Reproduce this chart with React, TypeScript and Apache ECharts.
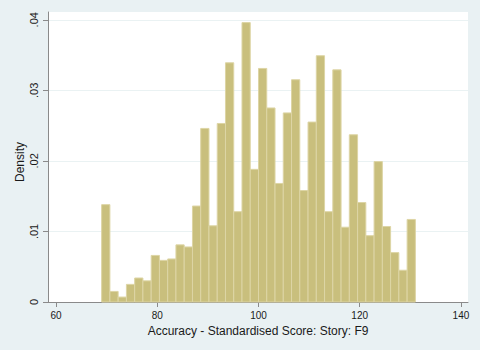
import React, { useEffect, useRef } from "react";
import * as echarts from "echarts";

// Histogram bins: start of first bin, bin width
const binStart = 69;
const binWidth = 62 / 38;
// Density of each bin
const densities = [
  0.0138, 0.0015, 0.0007, 0.0025, 0.0034, 0.003, 0.0066, 0.0059, 0.0061, 0.0081,
  0.0078, 0.0136, 0.0246, 0.0108, 0.0253, 0.0339, 0.0128, 0.0396, 0.0188, 0.0331,
  0.0275, 0.0168, 0.0268, 0.0315, 0.0158, 0.0255, 0.0349, 0.0128, 0.0329, 0.0106,
  0.0237, 0.0141, 0.0094, 0.0199, 0.0107, 0.007, 0.0045, 0.0117,
];
const xTicks = [60, 80, 100, 120, 140];
const yTicks = [0, 0.01, 0.02, 0.03, 0.04];
const yTickLabels = ["0", ".01", ".02", ".03", ".04"];
const xTitle = "Accuracy - Standardised Score: Story: F9";
const yTitle = "Density";

export default function App() {
  const ref = useRef<HTMLDivElement>(null);
  useEffect(() => {
    document.body.style.margin = "0";
    const chart = echarts.init(ref.current!, null, { renderer: "svg" });
    const data = densities.map((d, i) => [binStart + i * binWidth, binStart + (i + 1) * binWidth, d]);
    const font = "Liberation Sans";
    chart.setOption({
      animation: false,
      backgroundColor: "#e9f1f3",
      grid: {
        left: 48,
        top: 12,
        right: 12,
        bottom: 48,
        show: true,
        backgroundColor: "#ffffff",
        borderWidth: 0,
      },
      graphic: [
        {
          type: "text",
          x: 20,
          y: 162,
          rotation: Math.PI / 2,
          style: {
            text: yTitle,
            fontFamily: font,
            fontSize: 12,
            fill: "#1a1a1a",
            align: "center",
            verticalAlign: "middle",
          },
        },
      ],
      xAxis: {
        type: "value",
        min: 58.4,
        max: 141.4,
        name: xTitle,
        nameLocation: "middle",
        nameGap: 23,
        nameTextStyle: { fontFamily: font, fontSize: 12, color: "#1a1a1a" },
        axisLine: { show: true, onZero: false, lineStyle: { color: "#8a8a8a", width: 1 } },
        axisTick: { show: true, customValues: xTicks, length: 5, lineStyle: { color: "#8a8a8a" } },
        axisLabel: { customValues: xTicks, margin: 8, fontFamily: font, fontSize: 10, color: "#1a1a1a" },
        splitLine: { show: false },
      },
      yAxis: {
        type: "value",
        min: 0,
        max: 0.0411,
        axisLine: { show: true, lineStyle: { color: "#8a8a8a", width: 1 } },
        axisTick: { show: true, customValues: yTicks, length: 5, lineStyle: { color: "#8a8a8a" } },
        axisLabel: {
          customValues: yTicks,
          rotate: 90,
          margin: 9,
          fontFamily: font,
          fontSize: 11,
          color: "#1a1a1a",
          formatter: (v: number) => {
            const idx = yTicks.findIndex((t) => Math.abs(t - v) < 1e-9);
            return idx >= 0 ? yTickLabels[idx] : "";
          },
        },
        splitLine: { show: true, lineStyle: { color: "#eaf2f3", width: 1 } },
      },
      series: [
        {
          type: "custom",
          data,
          renderItem: (params: any, api: any) => {
            const p0 = api.coord([api.value(0), api.value(2)]);
            const p1 = api.coord([api.value(1), 0]);
            return {
              type: "rect",
              shape: { x: p0[0], y: p0[1], width: p1[0] - p0[0], height: p1[1] - p0[1] },
              style: { fill: "#c9bf7d", stroke: "#ddd5a5", lineWidth: 1 },
            };
          },
        },
      ],
    });
    return () => chart.dispose();
  }, []);
  return <div ref={ref} style={{ width: 480, height: 350 }} />;
}
